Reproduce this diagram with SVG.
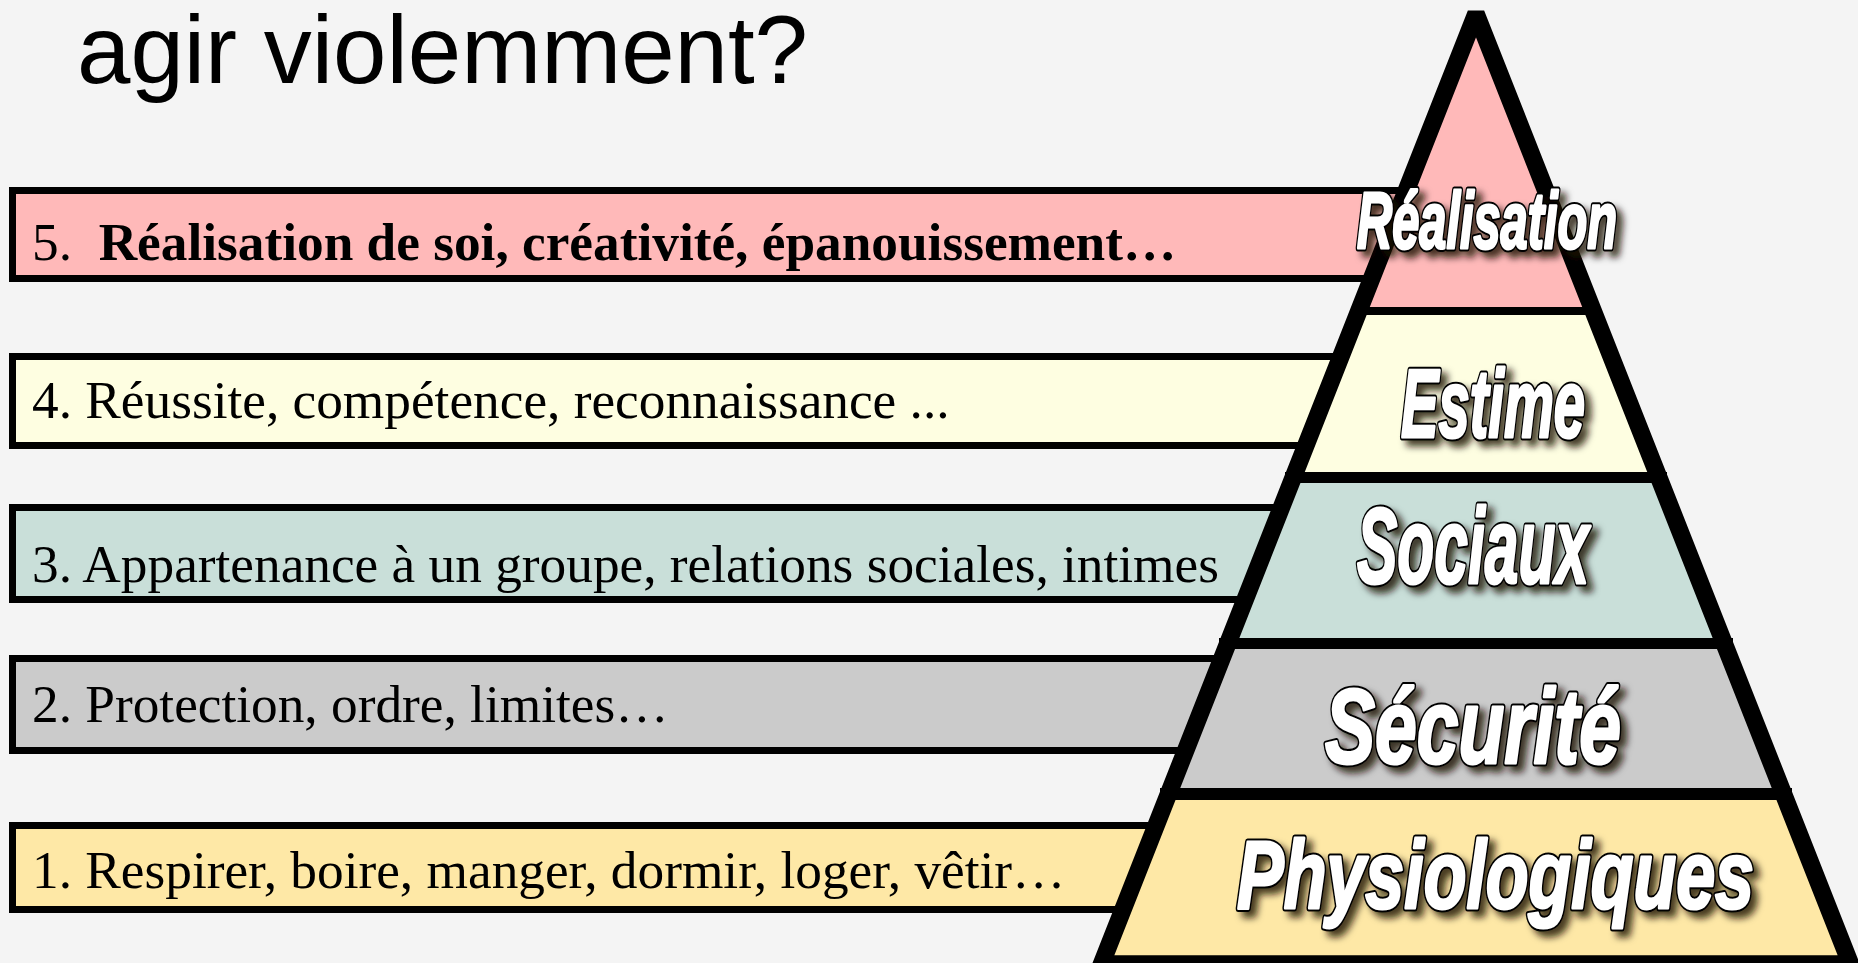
<svg xmlns="http://www.w3.org/2000/svg" width="1858" height="963" viewBox="0 0 1858 963">
<style>
.box{stroke:#000;stroke-width:7}
.btxt{font-family:"Liberation Serif","Times New Roman",serif;font-size:53.3px;fill:#000}
.lbl{font-family:"Liberation Sans",Arial,sans-serif;font-weight:bold;font-style:italic}
.back{fill:#000;stroke:#000;stroke-width:7;stroke-linejoin:round}
.front{fill:#fff;stroke:#fff;stroke-width:3;stroke-linejoin:round}
.div{stroke:#000}
</style>
<defs>
<filter id="sh" x="-15%" y="-30%" width="140%" height="180%">
<feGaussianBlur in="SourceAlpha" stdDeviation="3.5"/>
<feOffset dx="6" dy="6" result="b"/>
<feFlood flood-color="#1a1008" flood-opacity="0.8"/>
<feComposite in2="b" operator="in"/>
<feMerge><feMergeNode/><feMergeNode in="SourceGraphic"/></feMerge>
</filter>
</defs>
<rect x="0" y="0" width="1858" height="963" fill="#f4f4f4"/>
<text id="title" x="77" y="83" font-family="'Liberation Sans',Arial,sans-serif" font-size="96" fill="#000">agir violemment?</text>

<g id="box5"><rect class="box" x="12.5" y="190.5" width="1468" height="88" fill="#ffb9b9"/>
<text class="btxt" x="32" y="260" xml:space="preserve">5.  <tspan font-weight="bold">Réalisation de soi, créativité, épanouissement…</tspan></text></g>
<g id="box4"><rect class="box" x="12.5" y="356.5" width="1468" height="89" fill="#fefee1"/>
<text class="btxt" x="32" y="418">4. Réussite, compétence, reconnaissance ...</text></g>
<g id="box3"><rect class="box" x="12.5" y="507.5" width="1468" height="92" fill="#c9dfd9"/>
<text class="btxt" x="32" y="582">3. Appartenance à un groupe, relations sociales, intimes</text></g>
<g id="box2"><rect class="box" x="12.5" y="658.5" width="1468" height="92" fill="#cbcbcb"/>
<text class="btxt" x="32" y="722">2. Protection, ordre, limites…</text></g>
<g id="box1"><rect class="box" x="12.5" y="825.5" width="1468" height="84" fill="#fee8a6"/>
<text class="btxt" x="32" y="888">1. Respirer, boire, manger, dormir, loger, vêtir…</text></g>

<g id="pyramid">
<polygon id="layer5" points="1476,13.6 1593.2,311 1358.8,311" fill="#ffb9b9"/>
<polygon id="layer4" points="1358.8,311 1593.2,311 1658.8,477.5 1293.2,477.5" fill="#fefee1"/>
<polygon id="layer3" points="1293.2,477.5 1658.8,477.5 1724.2,643.5 1227.8,643.5" fill="#c9dfd9"/>
<polygon id="layer2" points="1227.8,643.5 1724.2,643.5 1783.5,794 1168.5,794" fill="#cbcbcb"/>
<polygon id="layer1" points="1168.5,794 1783.5,794 1850.5,964 1101.5,964" fill="#fee8a6"/>
<line class="div" x1="1351" y1="311" x2="1601" y2="311" stroke-width="8"/>
<line class="div" x1="1285" y1="477.5" x2="1667" y2="477.5" stroke-width="11"/>
<line class="div" x1="1219" y1="643.5" x2="1733" y2="643.5" stroke-width="11"/>
<line class="div" x1="1160" y1="794" x2="1792" y2="794" stroke-width="12"/>
<polygon points="1476,13.6 1850.5,964 1101.5,964" fill="none" stroke="#000" stroke-width="17.5" stroke-linejoin="miter" stroke-miterlimit="2"/>
</g>

<g id="labels" filter="url(#sh)">
<g id="l5" class="lbl" font-size="79">
<text class="back" x="1357" y="248" textLength="260" lengthAdjust="spacingAndGlyphs">Réalisation</text>
<text class="front" x="1357" y="248" textLength="260" lengthAdjust="spacingAndGlyphs">Réalisation</text></g>
<g id="l4" class="lbl" font-size="96">
<text class="back" x="1401" y="437" textLength="184" lengthAdjust="spacingAndGlyphs">Estime</text>
<text class="front" x="1401" y="437" textLength="184" lengthAdjust="spacingAndGlyphs">Estime</text></g>
<g id="l3" class="lbl" font-size="108">
<text class="back" x="1357" y="583" textLength="232" lengthAdjust="spacingAndGlyphs">Sociaux</text>
<text class="front" x="1357" y="583" textLength="232" lengthAdjust="spacingAndGlyphs">Sociaux</text></g>
<g id="l2" class="lbl" font-size="106">
<text class="back" x="1325" y="763" textLength="296" lengthAdjust="spacingAndGlyphs">Sécurité</text>
<text class="front" x="1325" y="763" textLength="296" lengthAdjust="spacingAndGlyphs">Sécurité</text></g>
<g id="l1" class="lbl" font-size="97">
<text class="back" x="1237" y="908" textLength="517" lengthAdjust="spacingAndGlyphs">Physiologiques</text>
<text class="front" x="1237" y="908" textLength="517" lengthAdjust="spacingAndGlyphs">Physiologiques</text></g>
</g>
</svg>
